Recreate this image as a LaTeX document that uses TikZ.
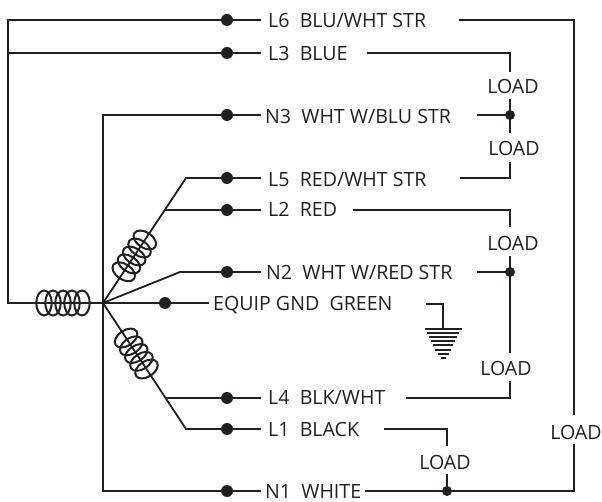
\documentclass[tikz,border=0pt]{standalone}
\usepackage{fontspec}
\setmainfont{Open Sans}
\usetikzlibrary{shapes.geometric,calc}
\definecolor{wire}{HTML}{231F20}
\tikzstyle{bigdot}=[circle, fill=wire, inner sep=0pt, minimum size=12pt]
\tikzstyle{smalldot}=[circle, fill=wire, inner sep=0pt, minimum size=10pt]
\tikzstyle{lab}=[anchor=west, inner sep=0pt, text=wire, text height=15pt, text depth=0pt, font=\fontsize{19.6}{22}\selectfont]
\tikzstyle{load}=[lab, anchor=center]
\tikzstyle{coil}=[draw=wire, line width=2pt, ellipse, inner sep=0pt, minimum width=15.5pt, minimum height=25pt]
\newcommand{\bigdot}{\node[bigdot]}
\newcommand{\smalldot}{\node[smalldot]}

\begin{document}
\begin{tikzpicture}[x=1pt,y=-1pt]
            \useasboundingbox (0,0) rectangle (602,502);
            % wire ends and corners
            \coordinate (hub) at (103,303);
            \coordinate (cl) at (8,20);
            \coordinate (cl3) at (8,53);
            \coordinate (cl0) at (8,303);
            \coordinate (cn3) at (103,115);
            \coordinate (cn1) at (103,491);
            \coordinate (b5) at (186,178);
            \coordinate (b2) at (166,210);
            \coordinate (b6) at (180,272);
            \coordinate (b4) at (166,398);
            \coordinate (b1) at (186,429);

            \bigdot (l6) at (227,20) {};
            \bigdot (l3) at (227,53) {};
            \bigdot (n3) at (227,115) {};
            \bigdot (l5) at (227,178) {};
            \bigdot (l2) at (227,210) {};
            \bigdot (n2) at (227,272) {};
            \bigdot (gnd) at (165,303) {};
            \bigdot (l4) at (227,398) {};
            \bigdot (l1) at (227,429) {};
            \bigdot (n1) at (227,491) {};

            \node[lab] (tl6) at (268,20) {L6\ \ BLU/WHT STR};
            \node[lab] (tl3) at (268,53) {L3\ \ BLUE};
            \node[lab] (tn3) at (265,116) {N3\ \ WHT W/BLU STR};
            \node[lab] (tl5) at (268,179) {L5\ \ RED/WHT STR};
            \node[lab] (tl2) at (268,209) {L2\ \ RED};
            \node[lab] (tn2) at (266,272) {N2\ \ WHT W/RED STR};
            \node[lab] (tgnd) at (213,303) {EQUIP GND\ \ GREEN};
            \node[lab] (tl4) at (268,397) {L4\ \ BLK/WHT};
            \node[lab] (tl1) at (268,429) {L1\ \ BLACK};
            \node[lab] (tn1) at (265,491) {N1\ \ WHITE};

            \node[load] (load1) at (513,86) {LOAD};
            \node[load] (load2) at (514,148) {LOAD};
            \node[load] (load3) at (513,243) {LOAD};
            \node[load] (load4) at (506,368) {LOAD};
            \node[load] (load5) at (576,432) {LOAD};
            \node[load] (load6) at (445,462) {LOAD};

            \smalldot (j3) at (510,115) {};
            \smalldot (j2) at (510,272) {};
            \smalldot (j1) at (447,491) {};

            % free ends left of and beside the text
            \coordinate (e6a) at (260,20);
            \coordinate (e3a) at (260,53);
            \coordinate (en3a) at (260,115);
            \coordinate (e5a) at (260,178);
            \coordinate (e2a) at (260,210);
            \coordinate (en2a) at (260,272);
            \coordinate (ega) at (208,303);
            \coordinate (e4a) at (260,398);
            \coordinate (e1a) at (260,429);
            \coordinate (en1a) at (260,491);

            \coordinate (e6b) at (460,20);
            \coordinate (c6) at (574,20);
            \coordinate (e6c) at (574,414);
            \coordinate (e6d) at (574,445);
            \coordinate (c6d) at (574,491);
            \coordinate (e3b) at (368,53);
            \coordinate (c3) at (510,53);
            \coordinate (e3c) at (510,71);
            \coordinate (j3a) at (510,100);
            \coordinate (j3b) at (510,132);
            \coordinate (en3b) at (478,115);
            \coordinate (e5c) at (510,163);
            \coordinate (c5) at (510,178);
            \coordinate (e5b) at (461,178);
            \coordinate (e2b) at (354,210);
            \coordinate (c2) at (510,210);
            \coordinate (e2c) at (510,226);
            \coordinate (j2a) at (510,257);
            \coordinate (j2b) at (510,352);
            \coordinate (en2b) at (478,272);
            \coordinate (e4c) at (510,382);
            \coordinate (c4) at (510,398);
            \coordinate (e4b) at (407,398);
            \coordinate (e1b) at (385,429);
            \coordinate (c1) at (447,429);
            \coordinate (e1c) at (447,445);
            \coordinate (j1a) at (447,475);
            \coordinate (en1b) at (366,491);
            \coordinate (g1) at (427,304);
            \coordinate (g2) at (443,304);
            \coordinate (g3) at (443,328);

            \path[draw=wire, line width=1.8pt, line cap=rect]
            (cl0) edge (hub)
            (cl0) edge (cl)
            (cl) edge (l6)
            (cl3) edge (l3)
            (cn3) edge (n3)
            (cn3) edge (cn1)
            (cn1) edge (n1)
            (hub) edge (b5)
            (b5) edge (l5)
            (b2) edge (l2)
            (hub) edge (b6)
            (b6) edge (n2)
            (hub) edge (gnd)
            (gnd) edge (ega)
            (hub) edge (b1)
            (b1) edge (l1)
            (b4) edge (l4)
            (l6) edge (e6a)
            (l3) edge (e3a)
            (n3) edge (en3a)
            (l5) edge (e5a)
            (l2) edge (e2a)
            (n2) edge (en2a)
            (l4) edge (e4a)
            (l1) edge (e1a)
            (n1) edge (en1a)
            (e6b) edge (c6)
            (c6) edge (e6c)
            (e6d) edge (c6d)
            (c6d) edge (en1b)
            (e3b) edge (c3)
            (c3) edge (e3c)
            (j3a) edge (j3b)
            (en3b) edge (j3)
            (e5c) edge (c5)
            (c5) edge (e5b)
            (e2b) edge (c2)
            (c2) edge (e2c)
            (j2a) edge (j2b)
            (en2b) edge (j2)
            (e4c) edge (c4)
            (c4) edge (e4b)
            (e1b) edge (c1)
            (c1) edge (e1c)
            (j1a) edge (j1)
            (g1) edge (g2)
            (g2) edge (g3)
            ;

            % coils
            \foreach \x [count=\i] in {44,53,63,72,82}
                \node[coil] (ca\i) at (\x,303) {};
            \foreach \t [count=\i] in {0.25,0.313,0.376,0.44,0.504}
                \node[coil, rotate=56.4] (cb\i) at ($(hub)!\t!(b5)$) {};
            \foreach \t [count=\i] in {0.278,0.34,0.401,0.463,0.524}
                \node[coil, rotate=-56.6] (cc\i) at ($(hub)!\t!(b1)$) {};

            % earth symbol
            \foreach \y/\w [count=\i] in {329/18.5,333/16,337/14,341/12,345.5/10,350/8,354/5.5,357.5/2.5}
                \draw[wire, line width=2pt] (443-\w,\y) -- (443+\w,\y);
        \end{tikzpicture}
\end{document}
